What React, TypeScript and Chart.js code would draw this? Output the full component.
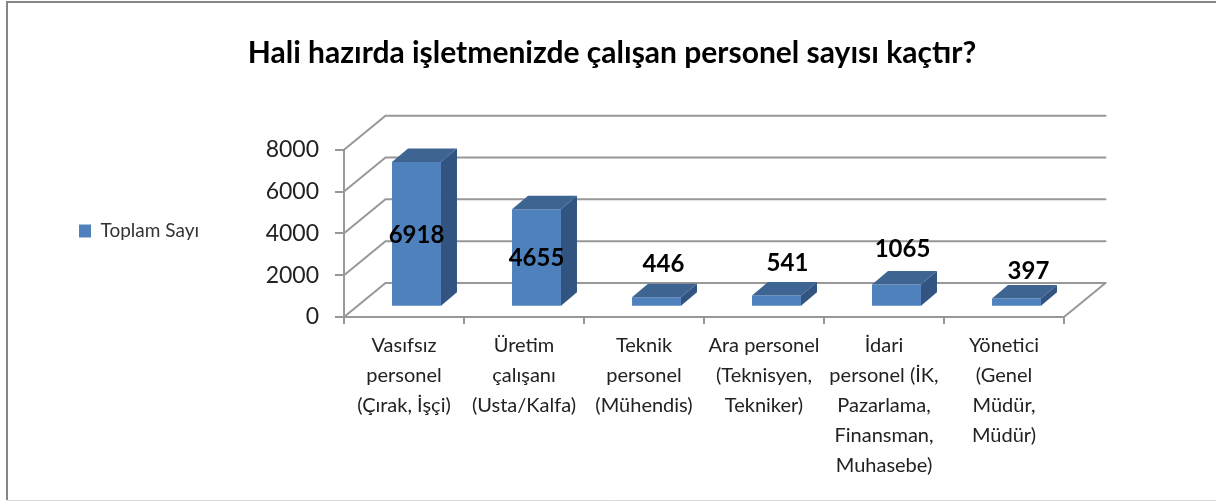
import React, { useEffect, useRef } from "react";
import { Chart, registerables } from "chart.js";

Chart.register(...registerables);

const categories: string[][] = [
  ["Vasıfsız", "personel", "(Çırak, İşçi)"],
  ["Üretim", "çalışanı", "(Usta/Kalfa)"],
  ["Teknik", "personel", "(Mühendis)"],
  ["Ara personel", "(Teknisyen,", "Tekniker)"],
  ["İdari", "personel (İK,", "Pazarlama,", "Finansman,", "Muhasebe)"],
  ["Yönetici", "(Genel", "Müdür,", "Müdür)"],
];
const seriesName = "Toplam Sayı";
const values = [6918, 4655, 446, 541, 1065, 397];
const titleText = "Hali hazırda işletmenizde çalışan personel sayısı kaçtır?";
const yMin = 0;
const yMax = 8000;
const yStep = 2000;

// Display-only nudges of the value labels, relative to the bar's front face centre
const labelNudgeX = [0, 0, 7, 11, 6, 12];
const labelY = ["mid", "mid", "above", "above", "above", "above"];
const labelGapAbove = [0, 0, 33, 32, 35, 27];

const FRONT = "#4F81BD";
const TOP = "#3E6592";
const SIDE = "#325480";
const AXIS = "#989898";
const FONT = "Lato";
const PAD_L = 69;
const PAD_R = 152;
const PAD_B = 14;
const AXIS_X = 344;
const AXIS_Y = 317;
const SHIFT_X = 12.5;
const SHIFT_Y = 10.3;
const DEPTH_X = 16;
const DEPTH_Y = 13.5;
const WALL_X = 41.5;
const WALL_Y = 34;
const LEGEND_LIFT = 30;

const scene3d = {
  id: "scene3d",
  afterLayout(chart: any) {
    const t = chart.titleBlock;
    if (t) {
      t.left = 8;
      t.right = 1216;
    }
    const l = chart.legend;
    if (l) {
      l.top -= LEGEND_LIFT;
      l.bottom -= LEGEND_LIFT;
    }
  },
  beforeDraw(chart: any) {
    const { ctx, width, height } = chart;
    ctx.save();
    ctx.fillStyle = "#fff";
    ctx.fillRect(0, 0, width, height);
    ctx.strokeStyle = "#868686";
    ctx.lineWidth = 2;
    ctx.beginPath();
    ctx.moveTo(7, 500);
    ctx.lineTo(7, 2);
    ctx.lineTo(width, 2);
    ctx.stroke();
    ctx.strokeStyle = "#d8d8d8";
    ctx.lineWidth = 1;
    ctx.beginPath();
    ctx.moveTo(7, 500.5);
    ctx.lineTo(width, 500.5);
    ctx.stroke();
    ctx.restore();
  },
  beforeDatasetsDraw(chart: any) {
    const { ctx, chartArea, scales } = chart;
    ctx.save();
    ctx.strokeStyle = AXIS;
    ctx.lineWidth = 2;
    ctx.lineCap = "round";
    for (const tick of scales.y.ticks) {
      const y = scales.y.getPixelForValue(tick.value);
      ctx.beginPath();
      ctx.moveTo(chartArea.left, y);
      ctx.lineTo(chartArea.left + WALL_X, y - WALL_Y);
      ctx.lineTo(chartArea.right + WALL_X, y - WALL_Y);
      ctx.stroke();
    }
    ctx.beginPath();
    ctx.moveTo(chartArea.right, chartArea.bottom);
    ctx.lineTo(chartArea.right + WALL_X, chartArea.bottom - WALL_Y);
    ctx.stroke();
    ctx.restore();
    ctx.save();
    ctx.translate(SHIFT_X, -SHIFT_Y);
  },
  afterDatasetsDraw(chart: any) {
    const { ctx } = chart;
    ctx.restore();
    const meta = chart.getDatasetMeta(0);
    ctx.save();
    meta.data.forEach((bar: any) => {
      const w = bar.width;
      const x0 = bar.x - w / 2 + SHIFT_X;
      const x1 = x0 + w;
      const yT = bar.y - SHIFT_Y;
      const yB = bar.base - SHIFT_Y;
      ctx.fillStyle = TOP;
      ctx.beginPath();
      ctx.moveTo(x0, yT);
      ctx.lineTo(x0 + DEPTH_X, yT - DEPTH_Y);
      ctx.lineTo(x1 + DEPTH_X, yT - DEPTH_Y);
      ctx.lineTo(x1, yT);
      ctx.closePath();
      ctx.fill();
      ctx.fillStyle = SIDE;
      ctx.beginPath();
      ctx.moveTo(x1, yT);
      ctx.lineTo(x1 + DEPTH_X, yT - DEPTH_Y);
      ctx.lineTo(x1 + DEPTH_X, yB - DEPTH_Y);
      ctx.lineTo(x1, yB);
      ctx.closePath();
      ctx.fill();
    });
    ctx.fillStyle = "#000";
    ctx.font = `bold 24px ${FONT}`;
    ctx.textAlign = "center";
    ctx.textBaseline = "middle";
    meta.data.forEach((bar: any, i: number) => {
      const cx = bar.x + SHIFT_X + labelNudgeX[i];
      const yT = bar.y - SHIFT_Y;
      const yB = bar.base - SHIFT_Y;
      const y = labelY[i] === "mid" ? (yT + yB) / 2 + 1 : yT - labelGapAbove[i];
      ctx.fillText(String(values[i]), cx, y);
    });
    ctx.restore();
  },
};

export default function App() {
  const ref = useRef<HTMLCanvasElement>(null);
  useEffect(() => {
    document.body.style.margin = "0";
    const chart = new Chart(ref.current as HTMLCanvasElement, {
      type: "bar",
      data: {
        labels: categories,
        datasets: [
          {
            label: seriesName,
            data: values,
            backgroundColor: FRONT,
            borderWidth: 0,
            barPercentage: 0.408,
            categoryPercentage: 1,
          },
        ],
      },
      plugins: [scene3d],
      options: {
        responsive: false,
        animation: false,
        layout: { padding: { left: PAD_L, right: PAD_R, top: 35, bottom: PAD_B } },
        plugins: {
          tooltip: { enabled: false },
          title: {
            display: true,
            text: titleText,
            color: "#000",
            font: { family: FONT, size: 30, weight: "bold", lineHeight: 1.2 },
            padding: { top: 0, bottom: 78.7 },
          },
          legend: {
            display: true,
            position: "left",
            labels: {
              color: "#333",
              font: { family: FONT, size: 19 },
              boxWidth: 12,
              boxHeight: 13,
              padding: 10,
            },
          },
        },
        scales: {
          x: {
            afterFit(s: any) {
              s.height = 501 - AXIS_Y - PAD_B;
            },
            grid: {
              drawOnChartArea: false,
              color: AXIS,
              lineWidth: 2,
              tickLength: 7,
              offset: true,
            },
            border: { color: AXIS, width: 2 },
            ticks: {
              color: "#222",
              font: { family: FONT, size: 20, lineHeight: 1.5 },
              padding: 7,
              maxRotation: 0,
              minRotation: 0,
              autoSkip: false,
            },
          },
          y: {
            min: yMin,
            max: yMax,
            afterFit(s: any) {
              const lw = s.chart.legend ? s.chart.legend.width || 0 : 0;
              s.width = AXIS_X - PAD_L - lw;
            },
            grid: {
              drawOnChartArea: false,
              color: AXIS,
              lineWidth: 2,
              tickLength: 9,
            },
            border: { color: AXIS, width: 2 },
            ticks: {
              stepSize: yStep,
              callback: (v: any) => String(v),
              color: "#222",
              font: { family: FONT, size: 23 },
              padding: 16,
            },
          },
        },
      },
    } as any);
    return () => chart.destroy();
  }, []);
  return <canvas ref={ref} width={1216} height={501} style={{ display: "block" }} />;
}
